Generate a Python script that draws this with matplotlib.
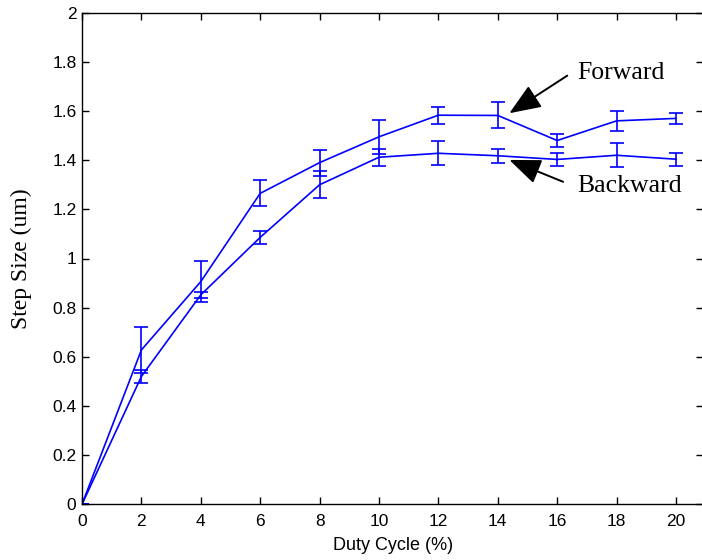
import numpy as np
import matplotlib.pyplot as plt
from matplotlib.ticker import FormatStrFormatter

# duty cycle (%) and measured step size (um)
duty = [0, 2, 4, 6, 8, 10, 12, 14, 16, 18, 20]
fwd = [0, 0.628, 0.906, 1.265, 1.39, 1.495, 1.583, 1.582, 1.48, 1.56, 1.57]
fwd_err = [0, 0.092, 0.085, 0.053, 0.053, 0.068, 0.034, 0.053, 0.025, 0.04, 0.023]
bwd = [0, 0.52, 0.852, 1.086, 1.30, 1.412, 1.428, 1.418, 1.403, 1.42, 1.404]
bwd_err = [0, 0.027, 0.013, 0.026, 0.055, 0.034, 0.048, 0.028, 0.027, 0.048, 0.026]

fig = plt.figure(figsize=(7.02, 5.6), dpi=100)
ax = fig.add_axes([82 / 702, 55.7 / 560, 620.7 / 702, 491.6 / 560])

for y, e in [(fwd, fwd_err), (bwd, bwd_err)]:
    ax.errorbar(duty, y, yerr=e, color='#0000ff', lw=1.2, elinewidth=1.2,
                capsize=5, capthick=1.2)

ax.set_xlim(0, 20.9)
ax.set_ylim(0, 2)
ax.set_xticks(np.arange(0, 21, 2))
ax.set_yticks(np.arange(0, 2.01, 0.2))
ax.yaxis.set_major_formatter(FormatStrFormatter('%g'))
ax.tick_params(direction='in', top=True, right=True, length=5, width=1.0,
               labelsize=12.5, labelfontfamily='Liberation Sans')
ax.tick_params(axis='x', pad=7)
ax.tick_params(axis='y', pad=4)
for s in ax.spines.values():
    s.set_linewidth(1.0)

ax.set_xlabel('Duty Cycle (%)', fontsize=13, family='Liberation Sans')
ax.xaxis.set_label_coords(0.501, -0.066)
ax.set_ylabel('Step Size (um)', fontsize=17, family='Liberation Serif')
ax.yaxis.set_label_coords(-0.081, 0.5)

arrow = dict(arrowstyle='-|>,head_length=0.75,head_width=0.3', color='k',
             lw=1.4, mutation_scale=26, shrinkA=0, shrinkB=0)
ax.annotate('', xy=(14.39, 1.591), xytext=(16.34, 1.744), arrowprops=arrow)
ax.annotate('', xy=(14.39, 1.401), xytext=(16.2, 1.312), arrowprops=arrow)
ax.text(16.69, 1.755, 'Forward', fontsize=18.5, family='Liberation Serif',
        va='center', ha='left')
ax.text(16.69, 1.296, 'Backward', fontsize=18.5, family='Liberation Serif',
        va='center', ha='left')

fig.savefig('out.png', dpi=100)
